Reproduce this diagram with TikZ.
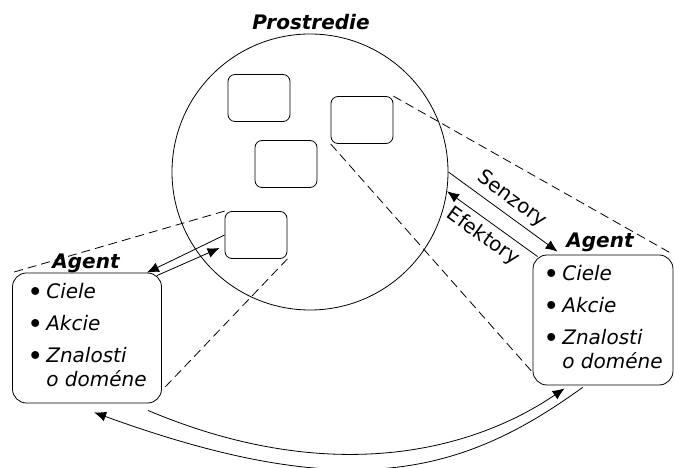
\documentclass[tikz,border=0pt]{standalone}
\usepackage{fontspec}
\setmainfont{DejaVu Sans}
\usetikzlibrary{arrows.meta}
\tikzset{
	obj/.style={draw,rounded corners=7pt,minimum width=62pt,minimum height=47pt},
	agentbox/.style={draw,rounded corners=14pt,minimum height=130pt,inner sep=0pt,font=\itshape},
	title/.style={font=\bfseries\itshape},
	proj/.style={dash pattern=on 9pt off 5pt},
}
\newcommand{\itembullet}{\raisebox{-3pt}{\upshape\fontsize{27}{24}\selectfont •}}
\newcommand{\agentitems}{%
	\begin{tabular}{@{}l@{\hspace{3pt}}l@{}}
		\itembullet&Ciele\\[8pt]
		\itembullet&Akcie\\[8pt]
		\itembullet&Znalosti\\
		&o doméne
	\end{tabular}}
\begin{document}
\fontsize{20}{24}\selectfont
\begin{tikzpicture}[x=1pt,y=1pt,line width=.8pt,>={Latex[length=12pt,width=10pt]}]
	\useasboundingbox (0,0) rectangle (674,468);
	% prostredie
	\node[circle,draw,minimum size=276pt] (env) at (310,296) {};
	\node[title] (envname) at (311,446) {Prostredie};
	\node[obj] (a) at (259,370) {};
	\node[obj] (b) at (286,304) {};
	\node[obj] (c) at (362,348) {};
	\node[obj] (d) at (256,233) {};
	% agenti
	\node[agentbox,minimum width=149pt] (agl) at (87,130) {\agentitems};
	\node[agentbox,minimum width=140pt] (agr) at (603,148) {\agentitems};
	\node[title] (agltitle) at (86,205) {Agent};
	\node[title] (agrtitle) at (600,226) {Agent};
	% projekcie
	\draw[proj] (d.north west)--(agl.north west);
	\draw[proj] (d.south east)--([yshift=13pt]agl.south east);
	\draw[proj] (c.north east)--(agr.north east);
	\draw[proj] (c.south west)--([yshift=13pt]agr.south west);
	% senzory a efektory
	\draw[->] (d.west)--([xshift=-15pt]agl.north east);
	\draw[->] ([xshift=-5pt,yshift=-3pt]agl.north east)--([xshift=-5pt,yshift=-13pt]d.west);
	\draw[->] (env.east)--([xshift=25pt,yshift=3pt]agr.north west)
		node[midway,sloped,above=-1pt]{Senzory};
	\draw[<-] (env.-8)--([xshift=5pt,yshift=-2pt]agr.north west)
		node[midway,sloped,below=-1pt]{Efektory};
	% komunikacia
	\draw[->] ([xshift=-14pt,yshift=-7pt]agl.south east)
		.. controls +(175,-74) and +(-99,-67) .. ([xshift=32pt,yshift=-3pt]agr.south west);
	\draw[->] ([xshift=50pt,yshift=-2pt]agr.south west)
		.. controls +(-120,-87) and +(256,-93) .. ([xshift=82pt,yshift=-9pt]agl.south west);
\end{tikzpicture}
\end{document}
